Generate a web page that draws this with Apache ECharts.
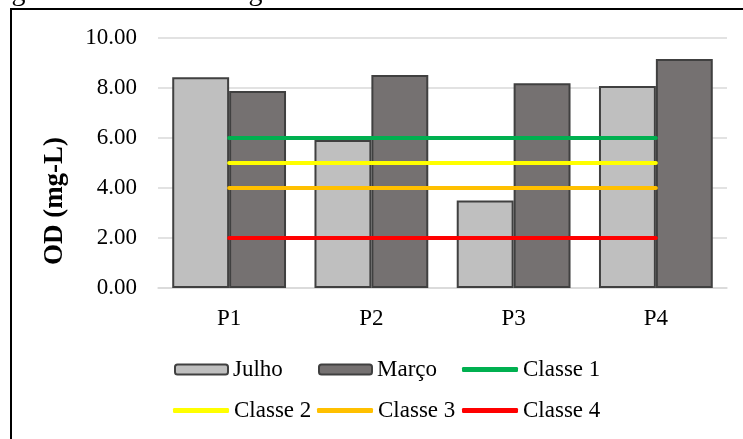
<!DOCTYPE html>
<html>
<head>
<meta charset="utf-8">
<script src="https://cdn.jsdelivr.net/npm/echarts@6/dist/echarts.min.js"></script>
<style>
  html, body { margin: 0; padding: 0; background: #fff; }
  #chart { width: 743px; height: 439px; }
</style>
</head>
<body>
<div id="chart"></div>
<script>
// Oxigênio dissolvido (OD) por ponto de coleta
const pontos = ['P1', 'P2', 'P3', 'P4'];
const julho = [8.43, 5.92, 3.50, 8.08];
const marco = [7.88, 8.52, 8.19, 9.16];
const classe1 = [6, 6, 6, 6];
const classe2 = [5, 5, 5, 5];
const classe3 = [4, 4, 4, 4];
const classe4 = [2, 2, 2, 2];
const yTicks = { min: 0, max: 10, interval: 2 };

const serif = '"Liberation Serif", "Times New Roman", serif';
const txt = { fontFamily: serif, fontSize: 23, color: '#000' };

function legendAt(name, left, top, isLine) {
  return {
    data: [isLine ? { name: name, icon: 'roundRect' } : name],
    left: left, top: top, orient: 'horizontal',
    itemWidth: isLine ? 56 : 53, itemHeight: isLine ? 5 : 10, itemGap: 0, itemTextGap: 4,
    textStyle: txt, padding: 0, selectedMode: false
  };
}

function classe(name, data, color) {
  return {
    name: name, type: 'line', data: data, symbol: 'none', z: 5,
    lineStyle: { color: color, width: 4, cap: 'round' },
    itemStyle: { color: color }
  };
}

const chart = echarts.init(document.getElementById('chart'));
chart.setOption({
  animation: false,
  backgroundColor: '#fff',
  grid: { left: 158, right: 16, top: 38, bottom: 151 },
  legend: [
    legendAt('Julho', 174, 358, false),
    legendAt('Março', 318, 358, false),
    legendAt('Classe 1', 462, 358, true),
    legendAt('Classe 2', 173, 399, true),
    legendAt('Classe 3', 317, 399, true),
    legendAt('Classe 4', 462, 399, true)
  ],
  xAxis: {
    type: 'category', data: pontos,
    axisLine: { lineStyle: { color: '#d9d9d9', width: 1.5 } },
    axisTick: { show: false },
    axisLabel: Object.assign({ margin: 19 }, txt)
  },
  yAxis: {
    type: 'value', min: yTicks.min, max: yTicks.max, interval: yTicks.interval,
    name: 'OD (mg-L)', nameLocation: 'middle', nameGap: 89,
    nameTextStyle: { fontFamily: serif, fontSize: 27, fontWeight: 'bold', color: '#000',
                     padding: [0, 76, 0, 0] },
    axisLine: { show: false }, axisTick: { show: false },
    splitLine: { lineStyle: { color: '#d9d9d9', width: 1.5 } },
    axisLabel: Object.assign({ margin: 21, formatter: v => v.toFixed(2) }, txt)
  },
  series: [
    {
      name: 'Julho', type: 'bar', data: julho, barGap: '0%', barCategoryGap: '20%',
      itemStyle: { color: '#bfbfbf', borderColor: '#404040', borderWidth: 2 }
    },
    {
      name: 'Março', type: 'bar', data: marco,
      itemStyle: { color: '#757171', borderColor: '#404040', borderWidth: 2 }
    },
    classe('Classe 1', classe1, '#00b050'),
    classe('Classe 2', classe2, '#ffff00'),
    classe('Classe 3', classe3, '#ffc000'),
    classe('Classe 4', classe4, '#ff0000')
  ],
  graphic: [
    {
      type: 'text', x: 296, y: 7,
      style: { text: 'Oxigênio dissolvido da água.', font: '28px ' + serif, fill: '#000',
               align: 'right', verticalAlign: 'bottom' }
    },
    {
      type: 'rect', shape: { x: 11, y: 9, width: 900, height: 600 },
      style: { fill: 'none', stroke: '#000', lineWidth: 2 }
    }
  ]
});
</script>
</body>
</html>
